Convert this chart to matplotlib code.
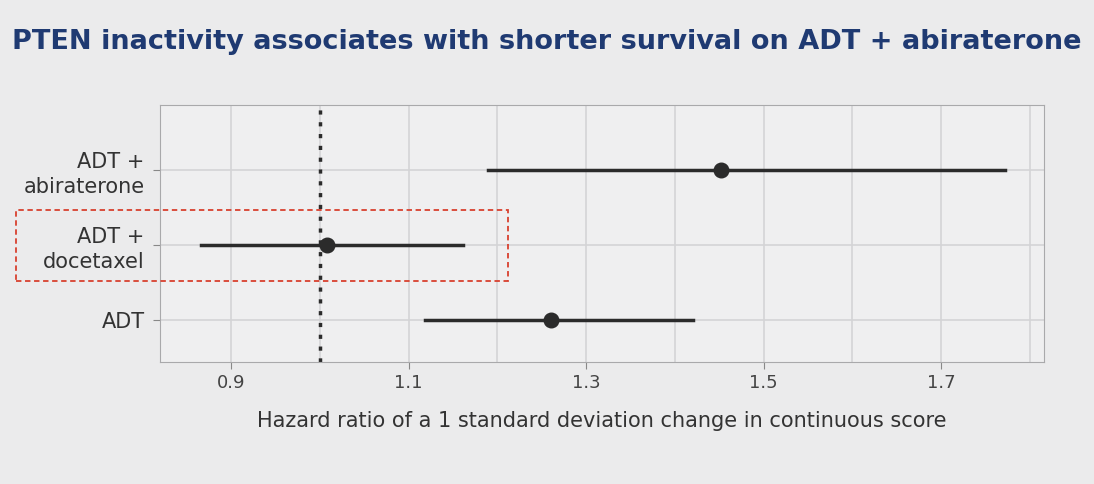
import matplotlib.pyplot as plt
from matplotlib.patches import Rectangle

arms = ["ADT", "ADT +\ndocetaxel", "ADT +\nabiraterone"]
hr = [1.26, 1.008, 1.452]
lo = [1.119, 0.866, 1.19]
hi = [1.42, 1.161, 1.772]
xticks = [0.9, 1.1, 1.3, 1.5, 1.7]

fig = plt.figure(figsize=(10.94, 4.84), dpi=100, facecolor="#ebebec")
ax = fig.add_axes([160 / 1094, 1 - 362 / 484, 884 / 1094, 257 / 484])
ax.set_facecolor("#efeff0")
ypos = list(range(len(arms)))
for y, l, h in zip(ypos, lo, hi):
    ax.plot([l, h], [y, y], color="#2b2b2b", lw=2.5, zorder=3)
ax.scatter(hr, ypos, s=110, color="#2b2b2b", zorder=4)
ax.axvline(1.0, color="#2b2b2b", ls=(0, (1.2, 2.2)), lw=2.5, zorder=2)

ax.set_xlim(0.82, 1.816)
ax.set_ylim(-0.56, 2.87)
ax.set_xticks(xticks)
ax.set_xticklabels([str(t) for t in xticks], fontsize=13, color="#444444")
ax.set_xticks([1.0, 1.2, 1.4, 1.6, 1.8], minor=True)
ax.set_yticks(ypos)
ax.set_yticklabels(arms, fontsize=15, color="#333333", linespacing=1.3)
ax.grid(True, which="both", color="#d4d4d6", lw=1.2)
ax.tick_params(which="major", length=5, color="#888888")
ax.tick_params(which="minor", length=0)
ax.tick_params(axis="y", pad=6)
ax.set_axisbelow(True)
for s in ax.spines.values():
    s.set_color("#a9a9ab")
ax.set_xlabel("Hazard ratio of a 1 standard deviation change in continuous score",
              fontsize=15, color="#333333", labelpad=14)

fig.text(0.5, 1 - 42 / 484, "PTEN inactivity associates with shorter survival on ADT + abiraterone",
         ha="center", va="center", fontsize=19.5, fontweight="bold", color="#1f3a72")

fig.patches.append(Rectangle((16 / 1094, 1 - 281 / 484), 492 / 1094, 71 / 484,
                             transform=fig.transFigure, fill=False,
                             edgecolor="#d8412f", ls=(0, (3, 2)), lw=1.3))

fig.savefig("out.png", dpi=100, facecolor=fig.get_facecolor())
